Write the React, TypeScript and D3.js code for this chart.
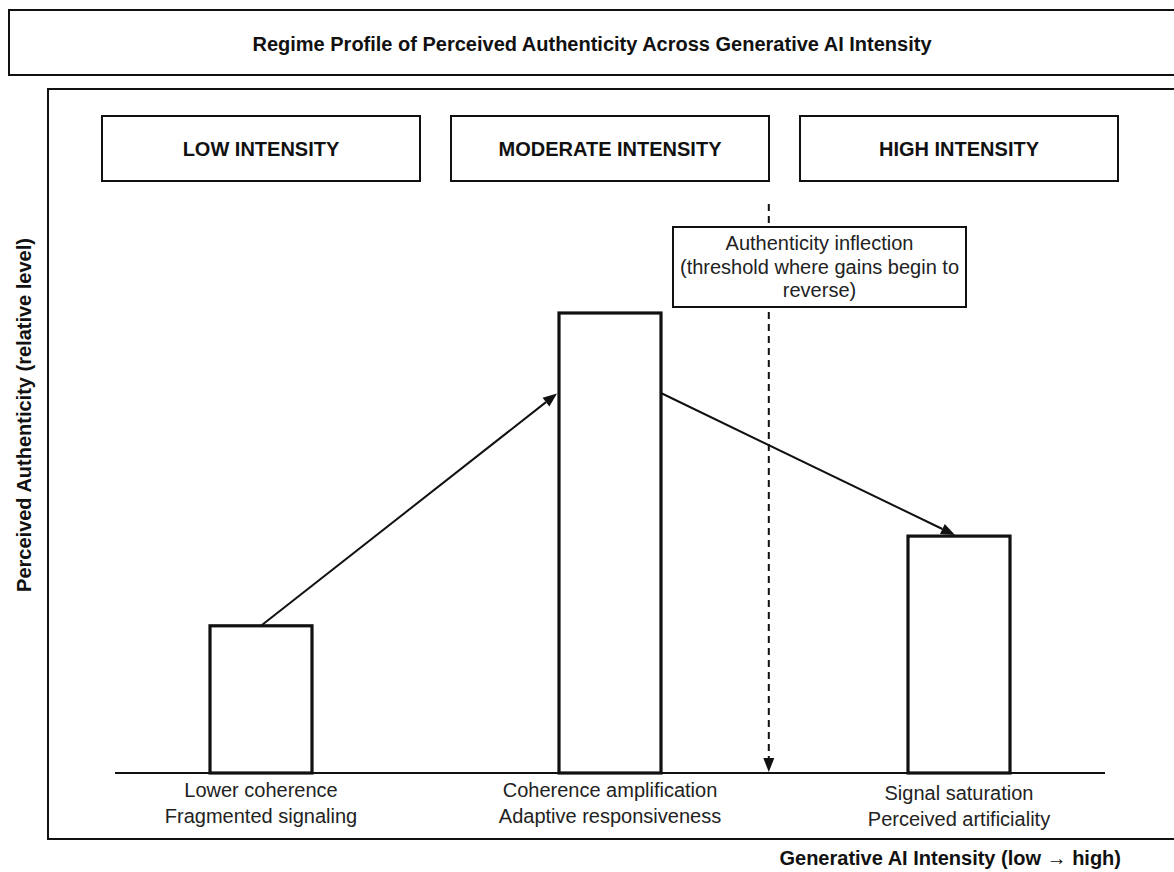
import React from "react";
import * as d3 from "d3";

const categories = ["low", "moderate", "high"];
const regimeLabels = ["LOW INTENSITY", "MODERATE INTENSITY", "HIGH INTENSITY"];
const authenticity = [0.32, 1.0, 0.515];
const outcomeLine1 = ["Lower coherence", "Coherence amplification", "Signal saturation"];
const outcomeLine2 = ["Fragmented signaling", "Adaptive responsiveness", "Perceived artificiality"];
const transitionLevel = 0.825;
const inflectionX = 1.455;
const annotationLines = [
  "Authenticity inflection",
  "(threshold where gains begin to",
  "reverse)",
];
const titleText = "Regime Profile of Perceived Authenticity Across Generative AI Intensity";
const yLabelText = "Perceived Authenticity (relative level)";
const xLabelText = "Generative AI Intensity (low \u2192 high)";

const W = 1174;
const H = 872;
const FONT = "'Liberation Sans', Arial, Helvetica, sans-serif";
const INK = "#111";

function arrowHead(x1: number, y1: number, x2: number, y2: number, len = 14, half = 5.5) {
  const a = Math.atan2(y2 - y1, x2 - x1);
  const bx = x2 - len * Math.cos(a);
  const by = y2 - len * Math.sin(a);
  const px = -Math.sin(a) * half;
  const py = Math.cos(a) * half;
  return {
    points: `${x2},${y2} ${bx + px},${by + py} ${bx - px},${by - py}`,
    bx,
    by,
  };
}

export default function App() {
  const x = d3.scaleLinear().domain([0, 2]).range([261, 959]);
  const y = d3.scaleLinear().domain([0, 1]).range([773, 313]);
  const barHalf = 51;
  const boxHalf = 159;
  const y0 = y(0);

  const a1 = { x1: x(0), y1: y(authenticity[0]), x2: x(1) - barHalf - 2, y2: y(transitionLevel) };
  const a2 = { x1: x(1) + barHalf + 1, y1: y(transitionLevel), x2: x(2) - 4, y2: y(authenticity[2]) - 1 };
  const h1 = arrowHead(a1.x1, a1.y1, a1.x2, a1.y2);
  const h2 = arrowHead(a2.x1, a2.y1, a2.x2, a2.y2);
  const xi = x(inflectionX);
  const hd = arrowHead(xi, 204, xi, y0 - 1, 14, 5.5);

  const annCx = 819.5;
  const annW = 293;
  const annTop = 227;
  const annBot = 307;

  return (
    <svg
      width={W}
      height={H}
      style={{ position: "absolute", left: 0, top: 0, background: "#fff" }}
      fontFamily={FONT}
    >
      <rect x={0} y={0} width={W} height={H} fill="#fff" />
      {/* title box */}
      <rect x={9} y={10} width={1170} height={65} fill="#fff" stroke={INK} strokeWidth={2} />
      <text x={592} y={44} textAnchor="middle" dominantBaseline="central" fontSize={20} fontWeight="bold" fill={INK}>
        {titleText}
      </text>
      {/* main frame */}
      <rect x={48} y={89} width={1140} height={750} fill="#fff" stroke={INK} strokeWidth={2} />

      {/* regime header boxes */}
      {categories.map((c, i) => (
        <g key={c}>
          <rect x={x(i) - boxHalf} y={116} width={boxHalf * 2} height={65} fill="#fff" stroke={INK} strokeWidth={2} />
          <text x={x(i)} y={148.5} textAnchor="middle" dominantBaseline="central" fontSize={20} fontWeight="bold" fill={INK}>
            {regimeLabels[i]}
          </text>
        </g>
      ))}

      {/* inflection dashed line */}
      <line x1={xi} y1={204} x2={xi} y2={hd.by} stroke={INK} strokeWidth={2} strokeDasharray="7,5" />
      <polygon points={hd.points} fill={INK} />

      {/* annotation box */}
      <rect x={annCx - annW / 2} y={annTop} width={annW} height={annBot - annTop} fill="#fff" stroke={INK} strokeWidth={2} />
      {annotationLines.map((t, i) => (
        <text key={i} x={annCx} y={243 + i * 23.5} textAnchor="middle" dominantBaseline="central" fontSize={20} fill="#222">
          {t}
        </text>
      ))}

      {/* bars */}
      {categories.map((c, i) => (
        <rect
          key={c}
          x={x(i) - barHalf}
          y={y(authenticity[i])}
          width={barHalf * 2}
          height={y0 - y(authenticity[i])}
          fill="#fff"
          stroke={INK}
          strokeWidth={3.2}
        />
      ))}

      {/* baseline */}
      <line x1={115} y1={y0} x2={1105} y2={y0} stroke={INK} strokeWidth={2} />

      {/* arrows */}
      <line x1={a1.x1} y1={a1.y1} x2={h1.bx} y2={h1.by} stroke={INK} strokeWidth={2} />
      <polygon points={h1.points} fill={INK} />
      <line x1={a2.x1} y1={a2.y1} x2={h2.bx} y2={h2.by} stroke={INK} strokeWidth={2} />
      <polygon points={h2.points} fill={INK} />

      {/* outcome labels */}
      {categories.map((c, i) => (
        <g key={c}>
          <text x={x(i)} y={790 + (i === 2 ? 3 : 0)} textAnchor="middle" dominantBaseline="central" fontSize={20} fill="#222">
            {outcomeLine1[i]}
          </text>
          <text x={x(i)} y={815.5 + (i === 2 ? 3 : 0)} textAnchor="middle" dominantBaseline="central" fontSize={20} fill="#222">
            {outcomeLine2[i]}
          </text>
        </g>
      ))}

      {/* axis labels */}
      <text x={1121} y={858} textAnchor="end" dominantBaseline="central" fontSize={20} fontWeight="bold" fill={INK}>
        {xLabelText}
      </text>
      <text
        transform={`translate(24, 415) rotate(-90)`}
        textAnchor="middle"
        dominantBaseline="central"
        fontSize={20}
        fontWeight="bold"
        fill={INK}
      >
        {yLabelText}
      </text>
    </svg>
  );
}
